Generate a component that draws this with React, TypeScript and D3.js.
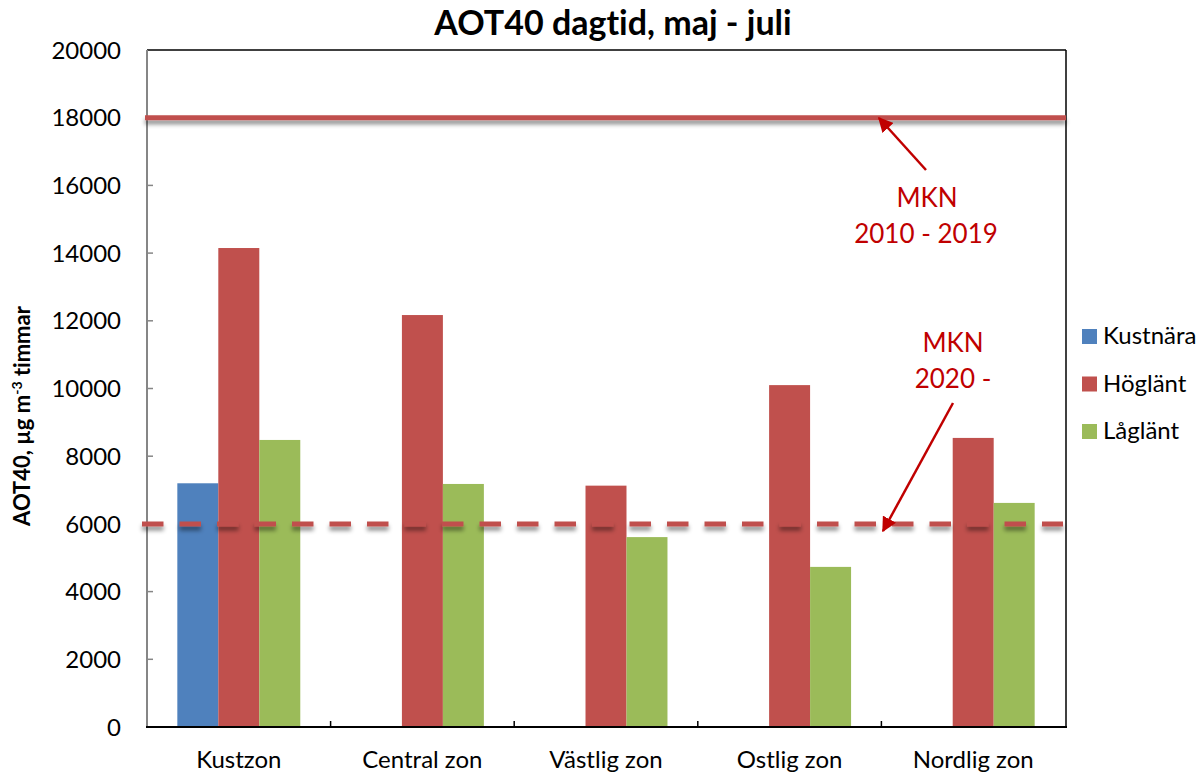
import React from "react";
import * as d3 from "d3";

const categories = ["Kustzon", "Central zon", "Västlig zon", "Ostlig zon", "Nordlig zon"];
const seriesNames = ["Kustnära", "Höglänt", "Låglänt"];
const seriesColors = ["#4F81BD", "#C0504D", "#9BBB59"];
// null = no bar for that zone
const kustnara = [7200, null, null, null, null];
const hoglant = [14150, 12170, 7130, 10100, 8540];
const laglant = [8480, 7180, 5610, 4730, 6620];
const yTicks = [0, 2000, 4000, 6000, 8000, 10000, 12000, 14000, 16000, 18000, 20000];
const mknOld = 18000;
const mknNew = 6000;

const W = 1200;
const H = 773;
const left = 147;
const right = 1065;
const top = 50;
const bottom = 727;
const font = "Lato, 'Open Sans', sans-serif";

export default function App() {
  const series = [kustnara, hoglant, laglant];

  const x = d3.scaleBand().domain(categories).range([left, right]).padding(0);
  const xi = d3.scaleBand().domain(seriesNames).range([0, x.bandwidth()])
    .paddingInner(0).paddingOuter(0.74);
  const y = d3.scaleLinear().domain([0, 20000]).range([bottom, top]);

  const bars = [];
  series.forEach((vals, si) => {
    vals.forEach((v, ci) => {
      if (v == null) return;
      bars.push(
        <rect key={si + "-" + ci}
          x={x(categories[ci]) + xi(seriesNames[si])}
          y={y(v)}
          width={xi.bandwidth()}
          height={y(0) - y(v)}
          fill={seriesColors[si]} />
      );
    });
  });

  const boundaries = categories.slice(1).map((c) => x(c));

  return (
    <svg width={W} height={H}
      style={{ position: "absolute", left: 0, top: 0, display: "block", fontVariantLigatures: "none" }}
      fontFamily={font}>
      <defs>
        <filter id="shadow" filterUnits="userSpaceOnUse" x="0" y="0" width={W} height={H}>
          <feDropShadow dx="0" dy="4" stdDeviation="2.2" floodColor="#000" floodOpacity="0.45" />
        </filter>
        <marker id="arrow" viewBox="0 0 10 10" refX="9" refY="5" markerWidth="6" markerHeight="6"
          orient="auto-start-reverse" markerUnits="strokeWidth">
          <path d="M0,0 L10,5 L0,10 z" fill="#C00000" />
        </marker>
      </defs>
      <rect width={W} height={H} fill="#fff" />

      <text x={613} y={35} textAnchor="middle" fontSize={34} fontWeight="bold" fill="#000">
        AOT40 dagtid, maj - juli
      </text>

      {/* plot frame top/right */}
      <line x1={left} x2={right + 1} y1={top} y2={top} stroke="#000" strokeWidth={1.5} />
      <line x1={right + 1} x2={right + 1} y1={top} y2={bottom} stroke="#000" strokeWidth={1.5} />

      {bars}

      {/* y axis */}
      <line x1={left} x2={left} y1={top} y2={bottom} stroke="#868686" strokeWidth={2} />
      {yTicks.map((t) => (
        <g key={t}>
          {t > 0 && t < 20000 && (
            <line x1={left} x2={left + 6} y1={y(t)} y2={y(t)} stroke="#868686" strokeWidth={1.5} />
          )}
          <text x={121} y={y(t)} dy="0.36em" textAnchor="end" fontSize={24} fill="#000">{t}</text>
        </g>
      ))}

      {/* x axis */}
      <line x1={left - 1} x2={right + 2} y1={bottom} y2={bottom} stroke="#000" strokeWidth={2} />
      {boundaries.map((b, i) => (
        <line key={i} x1={b} x2={b} y1={bottom} y2={bottom - 6} stroke="#000" strokeWidth={1.5} />
      ))}
      {categories.map((c) => (
        <text key={c} x={x(c) + x.bandwidth() / 2} y={768} textAnchor="middle" fontSize={24} fill="#000">{c}</text>
      ))}

      {/* y title */}
      <text transform="translate(30,416) rotate(-90)" textAnchor="middle" fontSize={22} fontWeight="bold" fill="#000">
        AOT40, µg m<tspan dy="-8" fontSize={14}>-3</tspan><tspan dy="8"> timmar</tspan>
      </text>

      {/* MKN lines */}
      <line x1={left - 2} x2={right + 1} y1={y(mknOld)} y2={y(mknOld)} stroke="#C0504D" strokeWidth={5}
        filter="url(#shadow)" />
      <line x1={142} x2={right - 2} y1={y(mknNew)} y2={y(mknNew)} stroke="#C0504D" strokeWidth={5}
        strokeDasharray="21.5 16" filter="url(#shadow)" />

      {/* annotations */}
      <line x1={926} y1={170} x2={879} y2={118} stroke="#C00000" strokeWidth={2.5} markerEnd="url(#arrow)" />
      <text x={927} y={207} textAnchor="middle" fontSize={26} fill="#C00000">MKN</text>
      <text x={926} y={243} textAnchor="middle" fontSize={26} fill="#C00000">2010 - 2019</text>

      <line x1={953} y1={403} x2={883} y2={531} stroke="#C00000" strokeWidth={2.5} markerEnd="url(#arrow)" />
      <text x={953} y={352} textAnchor="middle" fontSize={26} fill="#C00000">MKN</text>
      <text x={953} y={388} textAnchor="middle" fontSize={26} fill="#C00000">2020 -</text>

      {/* legend */}
      {seriesNames.map((s, i) => (
        <g key={s} transform={`translate(1082, ${329 + i * 47.5})`}>
          <rect width={15} height={15} fill={seriesColors[i]} />
          <text x={21} y={15} fontSize={24} fill="#000">{s}</text>
        </g>
      ))}
    </svg>
  );
}
